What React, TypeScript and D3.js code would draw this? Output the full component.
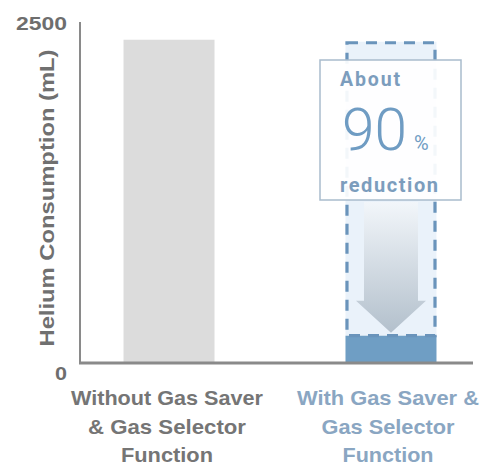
import React from "react";
import * as d3 from "d3";

const categories = ["Without Gas Saver & Gas Selector Function", "With Gas Saver & Gas Selector Function"];
const values = [2370, 200];
const labelLines = [
  ["Without Gas Saver", "& Gas Selector", "Function"],
  ["With Gas Saver &", "Gas Selector", "Function"],
];
const labelWidths = [
  [192, 158, 92],
  [182, 133, 91],
];
const yTicks = [0, 2500];
const yTitle = "Helium Consumption (mL)";
const calloutTop = "About";
const calloutValue = "90";
const calloutUnit = "%";
const calloutBottom = "reduction";

export default function App() {
  const W = 481, H = 467;
  const x0 = 80, yBase = 363, yTop = 22;
  const y = d3.scaleLinear().domain([0, 2500]).range([yBase, yTop]);
  const x = d3.scaleBand<string>().domain(categories).range([80, 480]).paddingInner(0.59).paddingOuter(0.196);
  const bw = x.bandwidth();
  const bx1 = x(categories[1])!;
  const cx1 = bx1 + bw / 2;
  const beforeTop = y(values[0]);
  const afterTop = y(values[1]);

  const shaftW = 54, headW = 70, headH = 32;
  const arrowTop = 202, arrowTip = afterTop - 3;
  const arrowPath: [number, number][] = [
    [cx1 - shaftW / 2, arrowTop],
    [cx1 + shaftW / 2, arrowTop],
    [cx1 + shaftW / 2, arrowTip - headH],
    [cx1 + headW / 2, arrowTip - headH],
    [cx1, arrowTip],
    [cx1 - headW / 2, arrowTip - headH],
    [cx1 - shaftW / 2, arrowTip - headH],
  ];
  const line = d3.line();

  return (
    <svg width={W} height={H} style={{ position: "absolute", left: 0, top: 0, background: "#fff" }}
      fontFamily="'Liberation Sans', Arial, sans-serif">
      <defs>
        <linearGradient id="arrowGrad" x1="0" y1="0" x2="0" y2="1">
          <stop offset="0" stopColor="#f2f6fa" />
          <stop offset="1" stopColor="#b3c0cc" />
        </linearGradient>
      </defs>
      <rect x={x(categories[0])} y={beforeTop} width={bw} height={yBase - beforeTop} fill="#dcdcdc" />
      <rect x={bx1} y={beforeTop + 2} width={bw} height={afterTop - beforeTop - 2} fill="#eaf2fa" />
      <path d={line(arrowPath) + "Z"} fill="url(#arrowGrad)" />
      <rect x={bx1} y={afterTop} width={bw} height={yBase - afterTop} fill="#6f9ec4" />
      <rect x={bx1 + 1.5} y={beforeTop + 3} width={bw - 3} height={afterTop - beforeTop - 3}
        fill="none" stroke="#6a94bb" strokeWidth={3.2} strokeDasharray="11 8" />
      <rect x={320} y={60} width={141} height={140} fill="#ffffff" fillOpacity={0.92} stroke="#a9bccd" strokeWidth={1.5} />
      <text x={340} y={86} fontFamily="Roboto, sans-serif" fontWeight={700} fontSize={19.5} fill="#7c9dbd"
        textLength={60} lengthAdjust="spacing">{calloutTop}</text>
      <text x={342} y={150} fontFamily="Roboto, sans-serif" fontWeight={300} fontSize={59} fill="#6f9cc3"
        textLength={65} lengthAdjust="spacingAndGlyphs">{calloutValue}</text>
      <text x={414} y={150} fontFamily="Roboto, sans-serif" fontWeight={400} fontSize={20} fill="#6f9cc3">{calloutUnit}</text>
      <text x={340} y={192} fontFamily="Roboto, sans-serif" fontWeight={700} fontSize={20} fill="#7c9dbd"
        textLength={98} lengthAdjust="spacing">{calloutBottom}</text>
      <line x1={x0} x2={x0} y1={yTop} y2={yBase + 1} stroke="#8a8a8a" strokeWidth={2} />
      <line x1={x0 - 1} x2={473} y1={yBase} y2={yBase} stroke="#8a8a8a" strokeWidth={3} />
      {yTicks.map((t) => (
        <text key={t} x={67} y={t === 0 ? 380 : 30} textAnchor="end"
          fontWeight={700} fontSize={19} fill="#6e6e6e"
          textLength={t === 0 ? 12 : 51} lengthAdjust="spacingAndGlyphs">{t}</text>
      ))}
      <text transform={`translate(54,198) rotate(-90)`} textAnchor="middle" fontWeight={700} fontSize={20} fill="#707070"
        textLength={297} lengthAdjust="spacingAndGlyphs">{yTitle}</text>
      {categories.map((c, i) =>
        labelLines[i].map((l, j) => (
          <text key={c + j} x={x(c)! + bw / 2 - (i === 1 ? 3 : 2)} y={405 + j * 28.5} textAnchor="middle"
            fontWeight={700} fontSize={20.5} fill={i === 0 ? "#757575" : "#8aa6c2"}
            textLength={labelWidths[i][j]} lengthAdjust="spacingAndGlyphs">{l}</text>
        ))
      )}
    </svg>
  );
}
